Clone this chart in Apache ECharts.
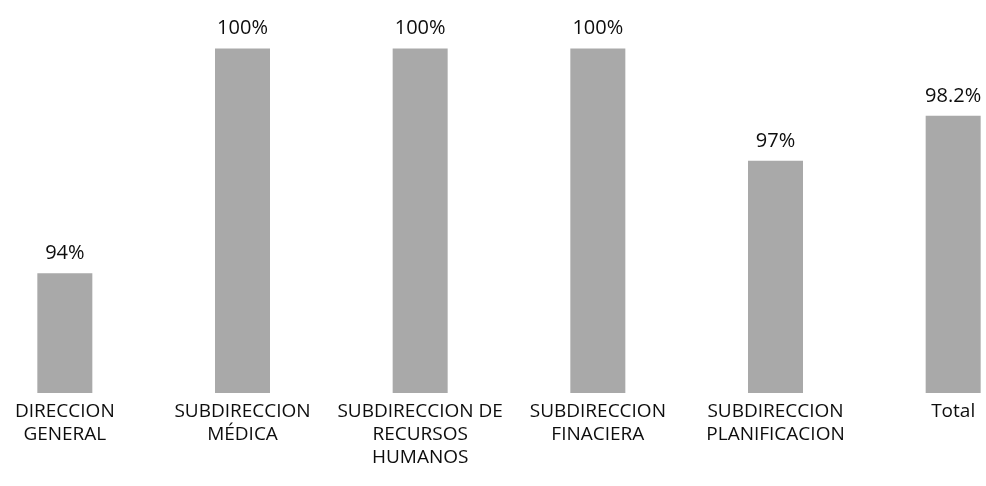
<!DOCTYPE html>
<html>
<head>
<meta charset="utf-8">
<script src="https://cdn.jsdelivr.net/npm/echarts@6/dist/echarts.min.js"></script>
<style>
html,body{margin:0;padding:0;background:#fff;}
#chart{width:986px;height:486px;}
</style>
</head>
<body>
<div id="chart"></div>
<script>
const categories = [
  "DIRECCION\nGENERAL",
  "SUBDIRECCION\nMÉDICA",
  "SUBDIRECCION DE\nRECURSOS\nHUMANOS",
  "SUBDIRECCION\nFINACIERA",
  "SUBDIRECCION\nPLANIFICACION",
  "Total"
];
const values = [94, 100, 100, 100, 97, 98.2];

const chart = echarts.init(document.getElementById('chart'));
chart.setOption({
  backgroundColor: '#ffffff',
  animation: false,
  grid: { left: -24, right: -56, top: 11, bottom: 93, outerBoundsMode: 'none', containLabel: false },
  xAxis: {
    type: 'category',
    data: categories,
    axisLine: { show: false },
    axisTick: { show: false },
    axisLabel: {
      interval: 0,
      color: '#0d0d0d',
      fontFamily: 'Open Sans',
      fontSize: 19,
      lineHeight: 23,
      margin: 7
    }
  },
  yAxis: {
    type: 'value',
    min: 90.8,
    max: 101,
    show: false,
    splitLine: { show: false }
  },
  series: [{
    type: 'bar',
    data: values,
    barWidth: 55,
    itemStyle: { color: '#a9a9a9' },
    label: {
      show: true,
      position: 'top',
      distance: 10,
      formatter: '{c}%',
      color: '#0d0d0d',
      fontFamily: 'Open Sans',
      fontSize: 20
    }
  }]
});
</script>
</body>
</html>
